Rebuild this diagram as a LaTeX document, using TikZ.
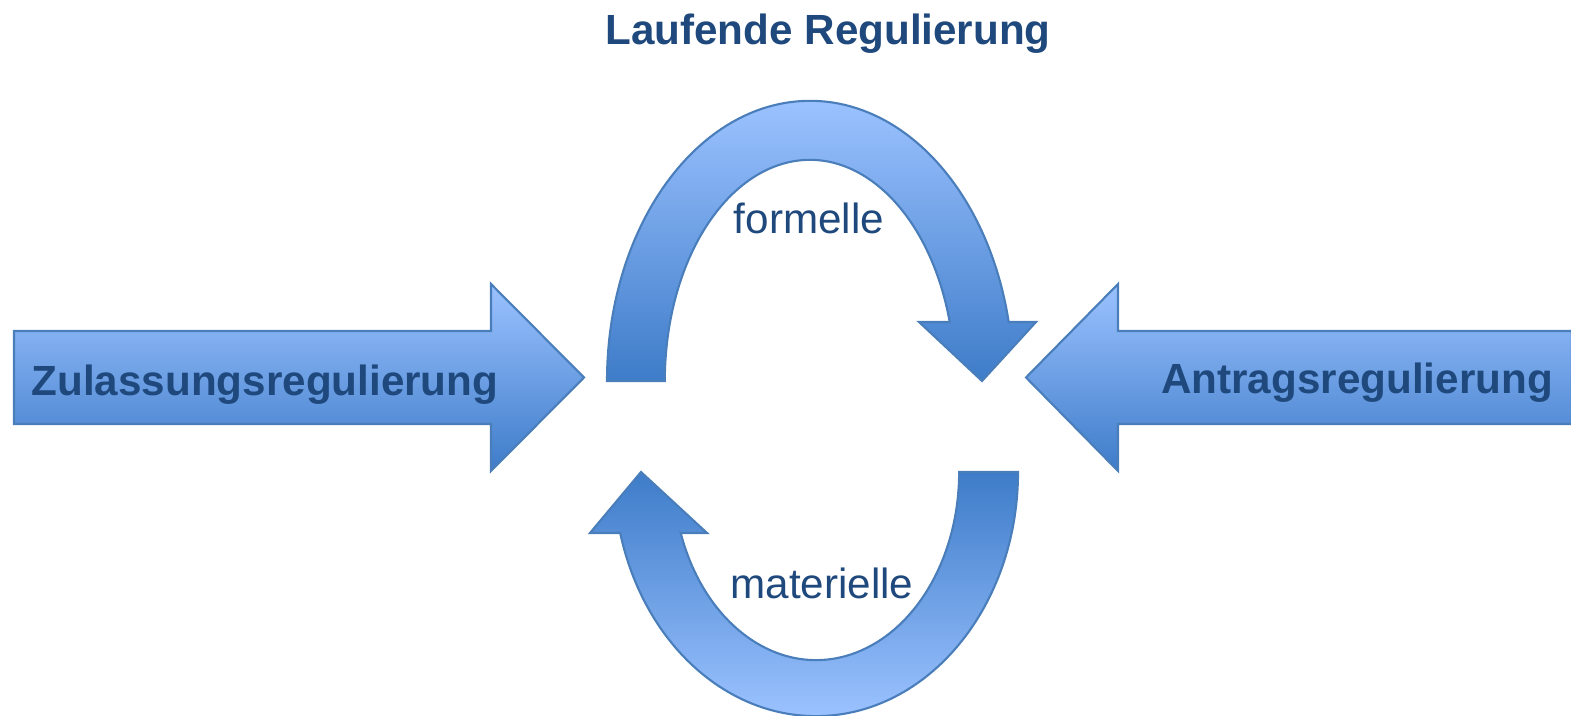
\documentclass[tikz,border=0pt]{standalone}
\usepackage{fontspec}
\setmainfont{Liberation Sans}
\definecolor{arrowlight}{RGB}{155,194,255}
\definecolor{arrowdark}{RGB}{62,124,201}
\definecolor{arrowedge}{RGB}{74,126,187}
\definecolor{labeltext}{RGB}{31,73,125}

\begin{document}
\begin{tikzpicture}[x=0.01cm, y=0.01cm]
    \tikzset{
      blockarrow/.style = { draw = arrowedge, line width = 0.6pt, top color = arrowlight, bottom color = arrowdark },
      blockarrow up/.style = { draw = arrowedge, line width = 0.6pt, top color = arrowdark, bottom color = arrowlight },
      bold label/.style = { text = labeltext, font = \fontsize{12}{14}\selectfont\bfseries, anchor = base, inner sep = 0pt },
      plain label/.style = { text = labeltext, font = \fontsize{12}{14}\selectfont, anchor = base, inner sep = 0pt },
    }
    \useasboundingbox (0,0) rectangle (1571,716);

    \draw[blockarrow] (14,292) -- (491,292) -- (491,245) -- (584,338.5) -- (491,432) -- (491,385) -- (14,385) -- cycle;
    \draw[blockarrow] (1572,292) -- (1118,292) -- (1118,245) -- (1026,338.5) -- (1118,432) -- (1118,385) -- (1572,385) -- cycle;

    \draw[blockarrow] (607,335) arc[start angle = 180, end angle = 12.16, x radius = 2.03cm, y radius = 2.80cm]
        -- (1036,394) -- (982,335) -- (919,394) -- (949.7,394)
        arc[start angle = 15.48, end angle = 180, x radius = 1.45cm, y radius = 2.21cm] -- cycle;
    \draw[blockarrow up] (1018,244) arc[start angle = 0, end angle = -165.52, x radius = 2.02cm, y radius = 2.44cm]
        -- (590,183) -- (641,244) -- (707,183) -- (680.7,183)
        arc[start angle = -161.07, end angle = 0, x radius = 1.43cm, y radius = 1.88cm] -- cycle;

    \node[bold label] (title) at (828,671) {Laufende Regulierung};
    \node[bold label] (zulassung) at (265,320) {Zulassungsregulierung};
    \node[bold label] (antrag) at (1357,322) {Antragsregulierung};
    \node[plain label] (formelle) at (809,482) {formelle};
    \node[plain label] (materielle) at (822,117) {materielle};
\end{tikzpicture}
\end{document}
